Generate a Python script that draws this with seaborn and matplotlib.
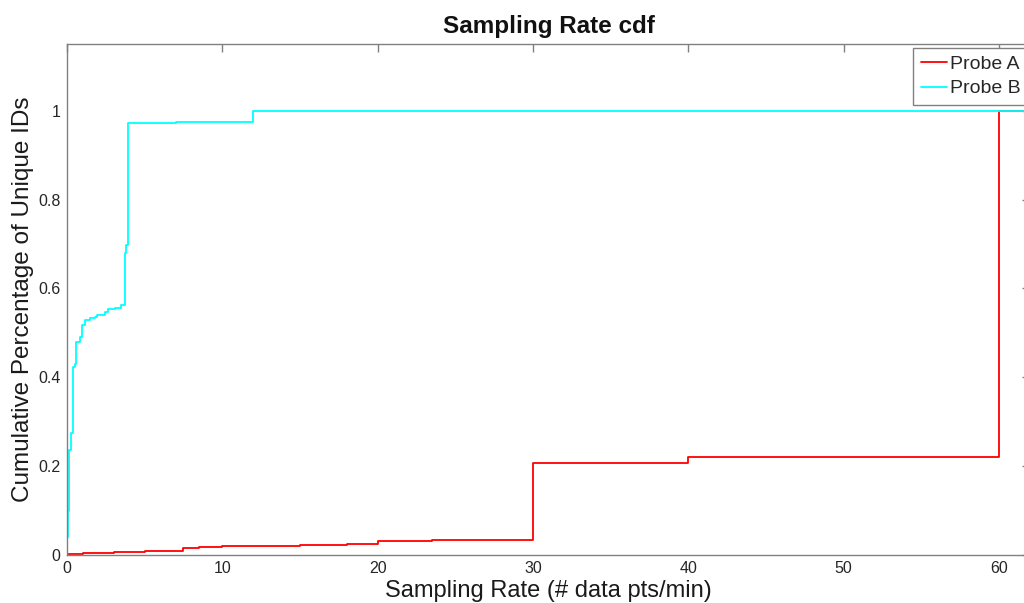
import matplotlib
matplotlib.use("Agg")
import matplotlib.pyplot as plt
import seaborn as sns
import pandas as pd

# ---- data ----
probe_a_rate = [0, 1, 2, 3, 4, 5, 6, 7.45, 8.5, 10, 12, 15, 18, 20, 23.5, 30, 40, 60, 62]
probe_a_cdf = [0.002, 0.004, 0.005, 0.006, 0.007, 0.008, 0.010, 0.016, 0.019, 0.020,
               0.021, 0.023, 0.025, 0.031, 0.033, 0.208, 0.220, 1.0, 1.0]

probe_b_rate = [0, 0.04, 0.1, 0.15, 0.26, 0.36, 0.41, 0.5, 0.58, 0.84, 0.94, 1.16, 1.48,
                1.8, 1.95, 2.44, 2.65, 3.08, 3.5, 3.72, 3.80, 3.94, 7.0, 12.0, 62]
probe_b_cdf = [0.04, 0.10, 0.18, 0.236, 0.275, 0.28, 0.424, 0.43, 0.48, 0.49, 0.518, 0.529,
               0.533, 0.535, 0.541, 0.546, 0.553, 0.555, 0.563, 0.68, 0.698, 0.973, 0.975,
               1.0, 1.0]

series_names = ["Probe A", "Probe B"]
series_colors = ["#ff0000", "#00ffff"]
x_ticks = [0, 10, 20, 30, 40, 50, 60]
y_ticks = [0, 0.2, 0.4, 0.6, 0.8, 1.0]
y_tick_labels = ["0", "0.2", "0.4", "0.6", "0.8", "1"]

df = pd.concat([
    pd.DataFrame({"rate": probe_a_rate, "cdf": probe_a_cdf, "probe": series_names[0]}),
    pd.DataFrame({"rate": probe_b_rate, "cdf": probe_b_cdf, "probe": series_names[1]}),
])

sns.set_style("white")
plt.rcParams["font.family"] = ["Liberation Sans", "DejaVu Sans"]

fig = plt.figure(figsize=(10.24, 6.03), dpi=100)
ax = fig.add_axes([67 / 1024, 48 / 603, (1030 - 67) / 1024, (555 - 44) / 603])

for name, color in zip(series_names, series_colors):
    sub = df[df["probe"] == name]
    sns.lineplot(data=sub, x="rate", y="cdf", ax=ax, color=color, label=name,
                 drawstyle="steps-post", estimator=None, sort=False, linewidth=1.3)

ax.set_xlim(0, 62)
ax.set_ylim(0, 1.15)
ax.set_xticks(x_ticks)
ax.set_xticklabels([str(t) for t in x_ticks])
ax.set_yticks(y_ticks)
ax.set_yticklabels(y_tick_labels)

spine_color = "#808080"
for s in ax.spines.values():
    s.set_visible(True)
    s.set_color(spine_color)
    s.set_linewidth(1.0)
ax.tick_params(direction="in", length=6, width=1.0, color=spine_color,
               top=True, right=True, labelsize=11.5, labelcolor="#262626", pad=4.5)

ax.set_xlabel("Sampling Rate (# data pts/min)", fontsize=17, color="#1a1a1a", labelpad=2.5)
ax.set_ylabel("Cumulative Percentage of Unique IDs", fontsize=17.5, color="#1a1a1a", labelpad=3)
ax.set_title("Sampling Rate cdf", fontsize=17.5, fontweight="bold", color="#111111", pad=8)

leg = ax.legend(loc="upper right", bbox_to_anchor=(0.998, 0.993), fontsize=14,
                frameon=True, fancybox=False, framealpha=1, edgecolor="#808080",
                handlelength=1.35, handletextpad=0.15, borderpad=0.4, labelspacing=0.35,
                borderaxespad=0)
leg.get_frame().set_linewidth(1.0)

fig.savefig("out.png", dpi=100)
